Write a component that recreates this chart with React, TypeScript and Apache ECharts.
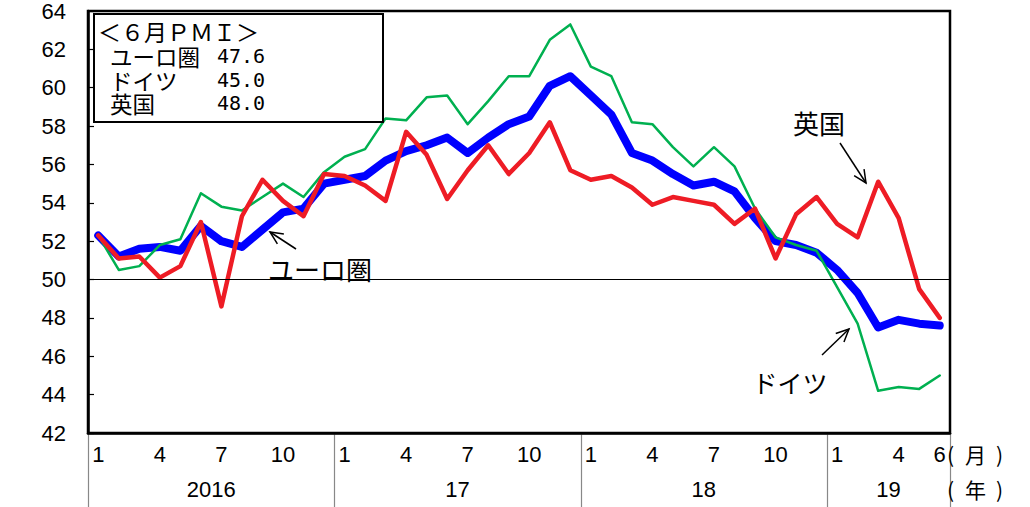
import React, { useEffect, useRef } from 'react';
import * as echarts from 'echarts';

const months: string[] = [
  '1','2','3','4','5','6','7','8','9','10','11','12',
  '1','2','3','4','5','6','7','8','9','10','11','12',
  '1','2','3','4','5','6','7','8','9','10','11','12',
  '1','2','3','4','5','6',
];
const yearLabels = ['2016', '17', '18', '19'];
const yearStarts = [0, 12, 24, 36, 42];

const euroArea = [
  52.3, 51.2, 51.6, 51.7, 51.5, 52.8, 52.0, 51.7, 52.6, 53.5, 53.7, 55.0,
  55.2, 55.4, 56.2, 56.7, 57.0, 57.4, 56.6, 57.4, 58.1, 58.5, 60.1, 60.6,
  59.6, 58.6, 56.6, 56.2, 55.5, 54.9, 55.1, 54.6, 53.2, 52.0, 51.8, 51.4,
  50.5, 49.3, 47.5, 47.9, 47.7, 47.6,
];
const germany = [
  52.3, 50.5, 50.7, 51.8, 52.1, 54.5, 53.8, 53.6, 54.3, 55.0, 54.3, 55.6,
  56.4, 56.8, 58.4, 58.3, 59.5, 59.6, 58.1, 59.3, 60.6, 60.6, 62.5, 63.3,
  61.1, 60.6, 58.2, 58.1, 56.9, 55.9, 56.9, 55.9, 53.7, 52.2, 51.8, 51.5,
  49.6, 47.7, 44.2, 44.4, 44.3, 45.0,
];
const uk = [
  52.3, 51.1, 51.2, 50.1, 50.7, 53.0, 48.6, 53.3, 55.2, 54.1, 53.3, 55.5,
  55.4, 54.9, 54.1, 57.7, 56.5, 54.2, 55.7, 57.0, 55.5, 56.6, 58.2, 55.7,
  55.2, 55.4, 54.8, 53.9, 54.3, 54.1, 53.9, 52.9, 53.7, 51.1, 53.4, 54.3,
  52.9, 52.2, 55.1, 53.2, 49.5, 48.0,
];

const boxTitle = '＜６月ＰＭＩ＞';
const boxNames = ['ユーロ圏', 'ドイツ', '英国'];
const boxValues = ['47.6', '45.0', '48.0'];

const JP = '"Noto Sans CJK JP", sans-serif';
const LAT = '"Liberation Sans", Arial, sans-serif';

function arrow(x1: number, y1: number, x2: number, y2: number) {
  // head at (x2, y2)
  const ang = Math.atan2(y1 - y2, x1 - x2);
  const L = 14;
  const a = (25 * Math.PI) / 180;
  const p1 = [x2 + L * Math.cos(ang + a), y2 + L * Math.sin(ang + a)];
  const p2 = [x2 + L * Math.cos(ang - a), y2 + L * Math.sin(ang - a)];
  return [
    { type: 'line', shape: { x1, y1, x2, y2 }, style: { stroke: '#000', lineWidth: 1.5 } },
    { type: 'polyline', shape: { points: [p1, [x2, y2], p2] }, style: { stroke: '#000', lineWidth: 1.5, fill: null } },
  ];
}

export default function App() {
  const ref = useRef<HTMLDivElement>(null);
  useEffect(() => {
    document.body.style.margin = '0';
    const chart = echarts.init(ref.current!, null, { renderer: 'svg' });
    const lineSeries = (name: string, data: number[], color: string, width: number, extra: any = {}) => ({
      name,
      type: 'line',
      data,
      symbol: 'none',
      lineStyle: { color, width, cap: 'round', join: 'round' },
      itemStyle: { color },
      ...extra,
    });
    const option: any = {
      animation: false,
      grid: { left: 88, right: 80, top: 10, bottom: 74, show: true, borderColor: '#000', borderWidth: 2.5, backgroundColor: 'transparent' },
      xAxis: [
        {
          type: 'category',
          data: months,
          boundaryGap: true,
          axisLine: { show: true, lineStyle: { color: '#000', width: 2.5 } },
          axisTick: { show: false },
          axisLabel: {
            interval: (i: number) => i % 3 === 0 || i === months.length - 1,
            fontSize: 22,
            color: '#000',
            fontFamily: LAT,
            margin: 10,
          },
          splitLine: { show: false },
        },
      ],
      yAxis: {
        type: 'value',
        min: 42,
        max: 64,
        interval: 2,
        axisLine: { show: true, lineStyle: { color: '#000', width: 2.5 } },
        axisTick: { show: true, inside: true, length: 6, lineStyle: { color: '#000', width: 1.2 } },
        axisLabel: { fontSize: 22, color: '#000', fontFamily: LAT, margin: 22 },
        splitLine: { show: false },
      },
      series: [
        lineSeries('ユーロ圏', euroArea, '#0000FF', 8, {
          markLine: {
            silent: true,
            symbol: ['none', 'none'],
            label: { show: false },
            lineStyle: { color: '#000', width: 1, type: 'solid' },
            data: [{ yAxis: 50 }],
          },
        }),
        lineSeries('ドイツ', germany, '#00B050', 2.5),
        lineSeries('英国', uk, '#EE1C25', 4.5),
      ],
    };
    chart.setOption(option);

    const c0 = chart.convertToPixel({ xAxisIndex: 0 }, 0) as number;
    const c1 = chart.convertToPixel({ xAxisIndex: 0 }, 1) as number;
    const bw = c1 - c0;
    const boundary = (k: number) => c0 + (k - 0.5) * bw;
    const yBottom = chart.convertToPixel({ yAxisIndex: 0 }, 42) as number;
    const H = chart.getHeight();

    const graphics: any[] = [];
    yearStarts.forEach((k) => {
      const x = Math.round(boundary(k)) + 0.5;
      graphics.push({ type: 'line', shape: { x1: x, y1: yBottom, x2: x, y2: H }, style: { stroke: '#888', lineWidth: 1.2 } });
    });
    yearLabels.forEach((lab, i) => {
      const xc = (boundary(yearStarts[i]) + boundary(yearStarts[i + 1])) / 2;
      graphics.push({
        type: 'text', x: xc, y: yBottom + 56,
        style: { text: lab, fontSize: 22, fontFamily: LAT, fill: '#000', align: 'center', verticalAlign: 'middle' },
      });
    });
    const xr = boundary(42);
    [['(', 0], ['月', 18], [')', 49]].forEach(([t, dx]) => {
      graphics.push({ type: 'text', x: xr - 3 + (dx as number), y: yBottom + 21,
        style: { text: t, fontSize: 21, fontFamily: JP, fill: '#000', verticalAlign: 'middle' } });
    });
    [['(', 0], ['年', 18], [')', 49]].forEach(([t, dx]) => {
      graphics.push({ type: 'text', x: xr - 3 + (dx as number), y: yBottom + 56,
        style: { text: t, fontSize: 21, fontFamily: JP, fill: '#000', verticalAlign: 'middle' } });
    });

    // legend box
    graphics.push({ type: 'rect', shape: { x: 94, y: 14, width: 289, height: 108 }, style: { fill: '#fff', stroke: '#000', lineWidth: 2 }, z: 10 });
    graphics.push({ type: 'text', x: 98, y: 31, z: 11, style: { text: boxTitle, fontSize: 23, lineHeight: 20, fontFamily: JP, fill: '#000', verticalAlign: 'middle' } });
    boxNames.forEach((n, i) => {
      const y = 56 + i * 23.5;
      graphics.push({ type: 'text', x: 110, y, z: 11, style: { text: n, fontSize: 22.5, lineHeight: 20, fontFamily: JP, fill: '#000', verticalAlign: 'middle' } });
      graphics.push({ type: 'text', x: 217, y, z: 11, style: { text: boxValues[i], fontSize: 20, lineHeight: 20, fontFamily: '"DejaVu Sans Mono", monospace', fill: '#000', verticalAlign: 'middle' } });
    });

    // annotations
    graphics.push({ type: 'text', x: 268, y: 268, z: 11, style: { text: 'ユーロ圏', fontSize: 26, fontFamily: JP, fill: '#000', verticalAlign: 'middle' } });
    graphics.push(...arrow(296, 249, 270, 232));
    graphics.push({ type: 'text', x: 819, y: 122, z: 11, style: { text: '英国', fontSize: 26, fontFamily: JP, fill: '#000', align: 'center', verticalAlign: 'middle' } });
    graphics.push(...arrow(840, 143, 866, 183));
    graphics.push({ type: 'text', x: 790, y: 382, z: 11, style: { text: 'ドイツ', fontSize: 25, fontFamily: JP, fill: '#000', align: 'center', verticalAlign: 'middle' } });
    graphics.push(...arrow(822, 355, 849, 329));

    chart.setOption({ graphic: graphics });
    return () => chart.dispose();
  }, []);
  return <div ref={ref} style={{ width: 1030, height: 507 }} />;
}
